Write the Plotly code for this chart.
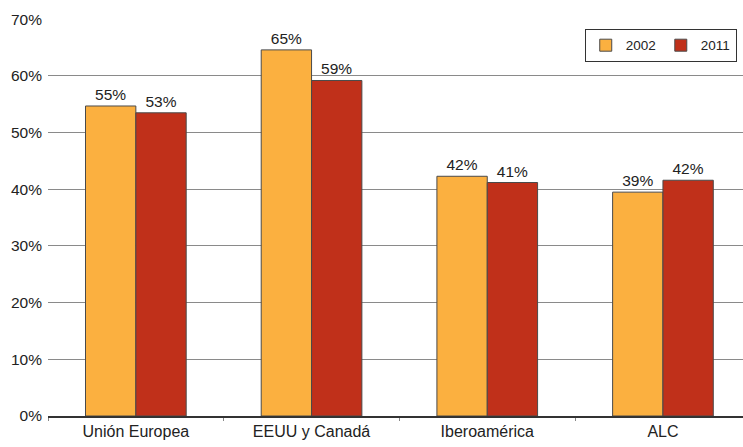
import plotly.graph_objects as go

categories = ["Unión Europea", "EEUU y Canadá", "Iberoamérica", "ALC"]
values_2002 = [54.7, 64.6, 42.3, 39.5]
values_2011 = [53.5, 59.2, 41.2, 41.6]
labels_2002 = ["55%", "65%", "42%", "39%"]
labels_2011 = ["53%", "59%", "41%", "42%"]
ytick_vals = [0, 10, 20, 30, 40, 50, 60, 70]
ytick_text = ["0%", "10%", "20%", "30%", "40%", "50%", "60%", "70%"]

font_family = "Liberation Sans, Arial, sans-serif"

fig = go.Figure()
fig.add_trace(go.Bar(
    name="2002", x=categories, y=values_2002, text=labels_2002,
    textposition="outside", cliponaxis=False,
    textfont=dict(size=15.5, color="#222222", family=font_family),
    marker=dict(color="#FBB040", line=dict(color="#4a4a4a", width=1)),
))
fig.add_trace(go.Bar(
    name="2011", x=categories, y=values_2011, text=labels_2011,
    textposition="outside", cliponaxis=False,
    textfont=dict(size=15.5, color="#222222", family=font_family),
    marker=dict(color="#C0301A", line=dict(color="#4a4a4a", width=1)),
))

fig.update_layout(
    width=743, height=447,
    margin=dict(l=48, r=0, t=19, b=31, pad=0, autoexpand=False),
    paper_bgcolor="white", plot_bgcolor="white",
    barmode="group", bargap=0.427, bargroupgap=0,
    font=dict(family=font_family, size=15.5, color="#222222"),
    legend=dict(
        orientation="h", x=0.991, y=0.975, xanchor="right", yanchor="top",
        bgcolor="white", bordercolor="#333333", borderwidth=1,
        font=dict(size=13.5, color="#222222"),
        itemwidth=30, tracegroupgap=0,
    ),
    xaxis=dict(
        range=[-0.5, -0.5 + 695 / 175.7],
        showline=True, linecolor="#333333", linewidth=1.5,
        ticks="outside", tickson="boundaries", ticklen=3, tickcolor="#888888",
        showgrid=False, tickfont=dict(size=16),
    ),
    yaxis=dict(
        range=[0, 70.05], tickvals=ytick_vals, ticktext=ytick_text,
        showgrid=True, gridcolor="#8a8a8a", gridwidth=1,
        zeroline=False, showline=False, ticks="",
        tickfont=dict(size=15.5), ticklabelstandoff=5,
    ),
)

fig.write_html("out.html", config={"displayModeBar": False})

# remove the default page margin so the figure sits at the window's corner
with open("out.html", "r", encoding="utf-8") as f:
    html = f.read()
html = html.replace("<head>", "<head><style>html,body{margin:0;padding:0;overflow:hidden;}</style>", 1)
with open("out.html", "w", encoding="utf-8") as f:
    f.write(html)
